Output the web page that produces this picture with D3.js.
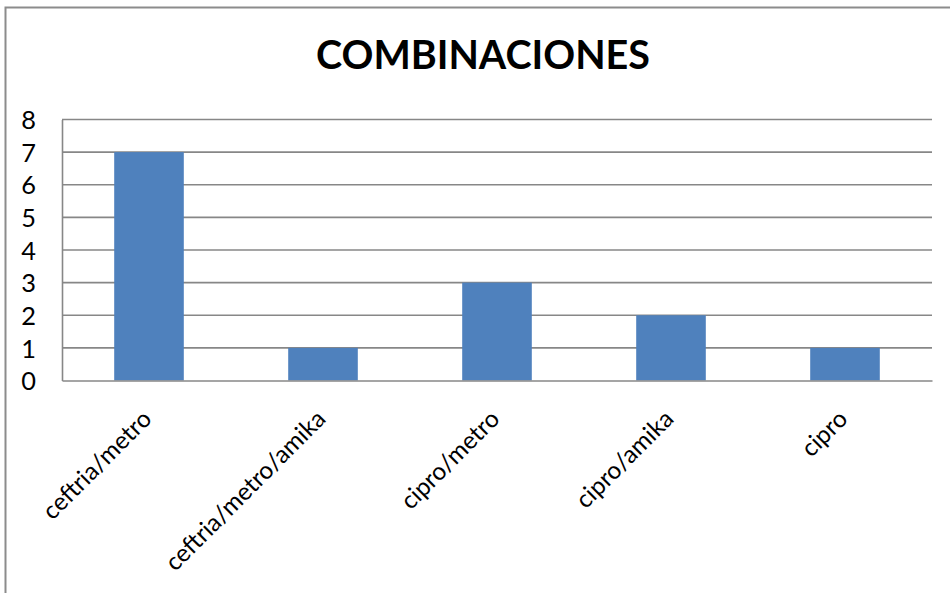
<!DOCTYPE html>
<html>
<head>
<meta charset="utf-8">
<script src="https://cdn.jsdelivr.net/npm/d3@7"></script>
<style>
  html, body { margin: 0; padding: 0; background: #fff; }
  svg { display: block; }
  text { font-family: Lato, "Open Sans", sans-serif; fill: #000; }
</style>
</head>
<body>
<svg id="chart" width="950" height="593"></svg>
<script>
// Chart data
const chartTitle = "COMBINACIONES";
const categories = ["ceftria/metro", "ceftria/metro/amika", "cipro/metro", "cipro/amika", "cipro"];
const counts = [7, 1, 3, 2, 1];
const yTicks = [0, 1, 2, 3, 4, 5, 6, 7, 8];

const W = 950, H = 593;
const plot = { left: 62, right: 932, top: 119.5, bottom: 380.5 };
const barColor = "#4F81BD";
const gridColor = "#878787";

const svg = d3.select("#chart");

// Outer chart frame (continues past the right and bottom edges)
svg.append("rect")
  .attr("x", 5.5).attr("y", 7.5)
  .attr("width", W + 20).attr("height", H + 20)
  .attr("fill", "#fff")
  .attr("stroke", "#8c8c8c")
  .attr("stroke-width", 2);

const x = d3.scaleBand()
  .domain(categories)
  .range([plot.left, plot.right])
  .paddingInner(0.6)
  .paddingOuter(0.3);

const y = d3.scaleLinear()
  .domain([0, 8])
  .range([plot.bottom, plot.top]);

// Horizontal gridlines
svg.append("g")
  .selectAll("line")
  .data(yTicks.filter(d => d > 0))
  .join("line")
  .attr("x1", plot.left).attr("x2", plot.right)
  .attr("y1", d => y(d)).attr("y2", d => y(d))
  .attr("stroke", gridColor)
  .attr("stroke-width", 1.6);

// Bars
svg.append("g")
  .selectAll("rect")
  .data(categories.map((c, i) => ({ c, v: counts[i] })))
  .join("rect")
  .attr("x", d => x(d.c))
  .attr("width", x.bandwidth())
  .attr("y", d => y(d.v))
  .attr("height", d => y(0) - y(d.v))
  .attr("fill", barColor);

// Value axis
const yAxis = d3.axisLeft(y).tickValues(yTicks).tickSize(0).tickPadding(26).tickFormat(d3.format("d"));
const gy = svg.append("g").attr("transform", `translate(${plot.left},0)`).call(yAxis);
gy.select(".domain").attr("stroke", gridColor).attr("stroke-width", 1.6);
gy.selectAll("text")
  .style("font-family", "Lato, sans-serif")
  .style("font-size", "23px")
  .attr("dy", "0.36em");

// Category axis
const xAxis = d3.axisBottom(x).tickSize(0).tickPadding(0);
const gx = svg.append("g").attr("transform", `translate(0,${plot.bottom})`).call(xAxis);
gx.select(".domain").attr("stroke", gridColor).attr("stroke-width", 1.6);
gx.selectAll("text")
  .style("font-family", "Lato, sans-serif")
  .style("font-size", "23px")
  .attr("text-anchor", "end")
  .attr("y", 0)
  .attr("dy", 0)
  .attr("transform", "translate(4,40) rotate(-45)");

// Fit category labels to the Calibri-like width
(function fitLabels() {
  const ref = gx.selectAll("text").filter(d => d === "ceftria/metro").node();
  const len = ref.getComputedTextLength();
  const size = 23 * 142 / len;
  gx.selectAll("text").style("font-size", size + "px");
  gy.selectAll("text").style("font-size", (size * 1.04) + "px");
})();

// Title
const title = svg.append("text")
  .attr("x", 483).attr("y", 69)
  .attr("text-anchor", "middle")
  .style("font-family", "Lato, sans-serif")
  .style("font-weight", "bold")
  .style("font-size", "36px")
  .text(chartTitle);
const tl = title.node().getComputedTextLength();
title.style("font-size", (36 * 334 / tl) + "px");
</script>
</body>
</html>
